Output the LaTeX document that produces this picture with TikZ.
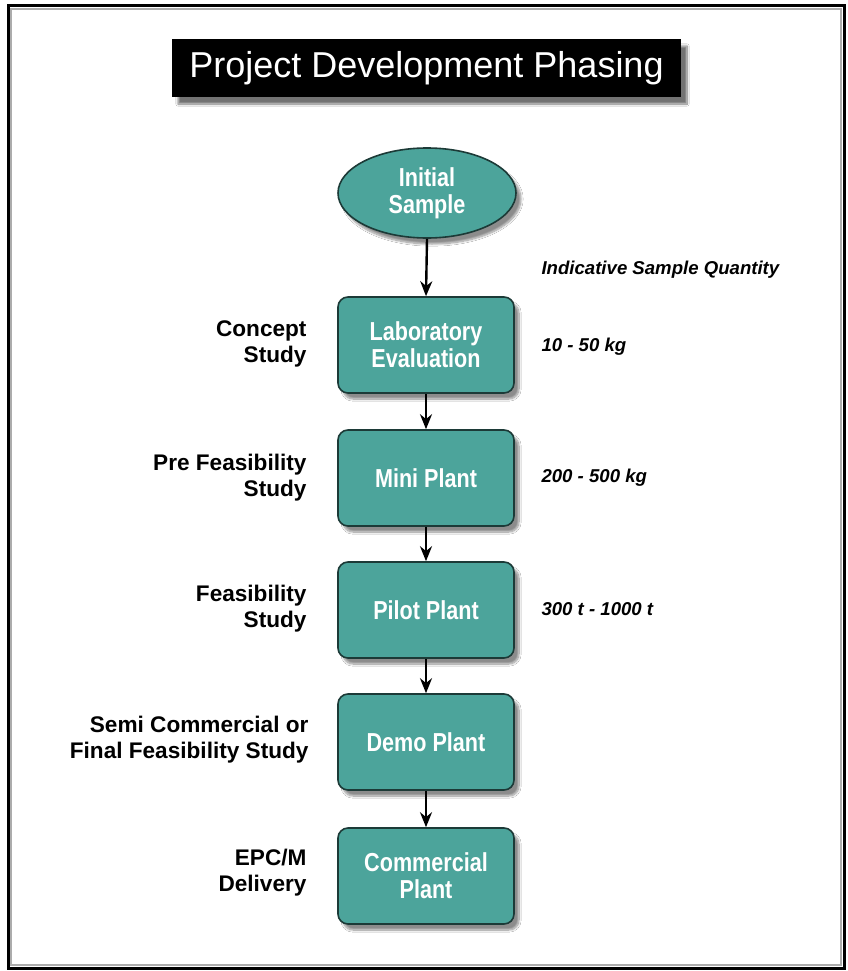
\documentclass[tikz,border=0pt]{standalone}
\usepackage{fontspec}
\setmainfont{Liberation Sans}
\newfontfamily\condfont[FakeStretch=0.83]{Liberation Sans}
\usetikzlibrary{shapes.geometric,shadows.blur,arrows.meta}
\definecolor{teal1}{RGB}{76,164,155}
\definecolor{tealdark}{RGB}{28,58,55}
\tikzset{
  phase/.style={draw=tealdark, line width=1.6pt, fill=teal1, rounded corners=10pt,
    minimum width=176pt, minimum height=96pt, align=center, text=white,
    font=\condfont\bfseries\fontsize{26}{27}\selectfont,
    blur shadow={shadow xshift=5pt, shadow yshift=-6pt, shadow blur steps=10, shadow blur extra rounding=2pt, shadow opacity=45}},
  startnode/.style={ellipse, draw=tealdark, line width=1.6pt, fill=teal1,
    minimum width=178pt, minimum height=90pt, inner sep=0pt, align=center, text=white,
    font=\condfont\bfseries\fontsize{26}{27}\selectfont,
    blur shadow={shadow xshift=5pt, shadow yshift=-6pt, shadow blur steps=10, shadow opacity=45}},
  leftlbl/.style={anchor=east, align=right, font=\bfseries\fontsize{22.6}{26}\selectfont},
  rightlbl/.style={anchor=west, align=left, font=\bfseries\itshape\fontsize{18.6}{22}\selectfont},
  flow/.style={line width=2.4pt, -{Stealth[length=15pt,width=12pt]}},
}
\begin{document}
\begin{tikzpicture}[x=1pt,y=-1pt]
\useasboundingbox (0,0) rectangle (847,971);
\fill[white] (0,0) rectangle (847,971);
% frame
\draw[line width=3pt, black] (8,6) rectangle (844,968);
\draw[line width=1.5pt, gray!65] (10.8,8.8) rectangle (841.2,965.2);
% title
\node[fill=black, minimum width=509pt, minimum height=58pt, inner sep=0pt,
  text=white, font=\fontsize{36}{36}\selectfont,
  blur shadow={shadow xshift=6pt, shadow yshift=-7pt, shadow blur steps=10, shadow opacity=55}]
  (title) at (426.5,68) {Project Development Phasing};
% nodes
\node[startnode] (init) at (427,193) {Initial\\Sample};
\node[phase] (lab) at (426,345) {Laboratory\\Evaluation};
\node[phase] (mini) at (426,478) {Mini Plant};
\node[phase] (pilot) at (426,610) {Pilot Plant};
\node[phase] (demo) at (426,742) {Demo Plant};
\node[phase] (comm) at (426,876) {Commercial\\Plant};
% arrows
\draw[flow] (init.south) -- (lab.north);
\draw[flow] (lab.south) -- (mini.north);
\draw[flow] (mini.south) -- (pilot.north);
\draw[flow] (pilot.south) -- (demo.north);
\draw[flow] (demo.south) -- (comm.north);
% left labels
\node[leftlbl] (l1) at (310,344) {Concept\\Study};
\node[leftlbl] (l2) at (310,478) {Pre Feasibility\\Study};
\node[leftlbl] (l3) at (310,609) {Feasibility\\Study};
\node[leftlbl] (l4) at (312,740) {Semi Commercial or\\Final Feasibility Study};
\node[leftlbl] (l5) at (310,873) {EPC/M\\Delivery};
% right labels
\node[rightlbl] (hdr) at (538,270) {Indicative Sample Quantity};
\node[rightlbl] (r1) at (538,347) {10 - 50 kg};
\node[rightlbl] (r2) at (538,478) {200 - 500 kg};
\node[rightlbl] (r3) at (538,609) {300 t - 1000 t};
\end{tikzpicture}
\end{document}
